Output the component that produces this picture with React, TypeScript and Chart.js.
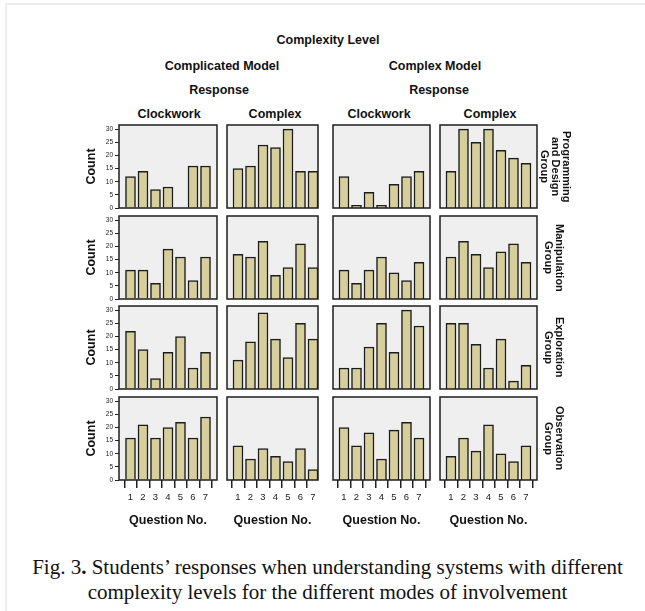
import React, { useEffect, useRef } from 'react';
import { Chart, registerables } from 'chart.js';

Chart.register(...registerables);

// ---------- data ----------
const QUESTIONS = [1, 2, 3, 4, 5, 6, 7];
const Y_TICKS = [0, 5, 10, 15, 20, 25, 30];
const MODELS = ['Complicated Model', 'Complex Model'];
const RESPONSES = ['Clockwork', 'Complex', 'Clockwork', 'Complex'];
const GROUP_LABELS = [
  ['Programming', 'and Design', 'Group'],
  ['Manipulation', 'Group'],
  ['Exploration', 'Group'],
  ['Observation', 'Group'],
];

// Programming and Design Group
const PROG_COMPLICATED_CLOCKWORK = [12, 14, 7, 8, 0, 16, 16];
const PROG_COMPLICATED_COMPLEX = [15, 16, 24, 23, 30, 14, 14];
const PROG_COMPLEX_CLOCKWORK = [12, 1, 6, 1, 9, 12, 14];
const PROG_COMPLEX_COMPLEX = [14, 30, 25, 30, 22, 19, 17];
// Manipulation Group
const MANI_COMPLICATED_CLOCKWORK = [11, 11, 6, 19, 16, 7, 16];
const MANI_COMPLICATED_COMPLEX = [17, 16, 22, 9, 12, 21, 12];
const MANI_COMPLEX_CLOCKWORK = [11, 6, 11, 16, 10, 7, 14];
const MANI_COMPLEX_COMPLEX = [16, 22, 17, 12, 18, 21, 14];
// Exploration Group
const EXPL_COMPLICATED_CLOCKWORK = [22, 15, 4, 14, 20, 8, 14];
const EXPL_COMPLICATED_COMPLEX = [11, 18, 29, 19, 12, 25, 19];
const EXPL_COMPLEX_CLOCKWORK = [8, 8, 16, 25, 14, 30, 24];
const EXPL_COMPLEX_COMPLEX = [25, 25, 17, 8, 19, 3, 9];
// Observation Group
const OBS_COMPLICATED_CLOCKWORK = [16, 21, 16, 20, 22, 16, 24];
const OBS_COMPLICATED_COMPLEX = [13, 8, 12, 9, 7, 12, 4];
const OBS_COMPLEX_CLOCKWORK = [20, 13, 18, 8, 19, 22, 16];
const OBS_COMPLEX_COMPLEX = [9, 16, 11, 21, 10, 7, 13];

const GRID = [
  [PROG_COMPLICATED_CLOCKWORK, PROG_COMPLICATED_COMPLEX, PROG_COMPLEX_CLOCKWORK, PROG_COMPLEX_COMPLEX],
  [MANI_COMPLICATED_CLOCKWORK, MANI_COMPLICATED_COMPLEX, MANI_COMPLEX_CLOCKWORK, MANI_COMPLEX_COMPLEX],
  [EXPL_COMPLICATED_CLOCKWORK, EXPL_COMPLICATED_COMPLEX, EXPL_COMPLEX_CLOCKWORK, EXPL_COMPLEX_COMPLEX],
  [OBS_COMPLICATED_CLOCKWORK, OBS_COMPLICATED_COMPLEX, OBS_COMPLEX_CLOCKWORK, OBS_COMPLEX_COMPLEX],
];

// ---------- layout ----------
const FONT = '"Liberation Sans", Arial, Helvetica, sans-serif';
const COL_LEFT = [119, 227, 333, 440];
const COL_WIDTH = [98, 91, 97, 97];
const COL_XMIN = [0.08, 0.12, 0.12, 0.12];
const COL_XMAX = [7.92, 7.4, 7.88, 7.88];
const ROW_TOP = [125, 216, 306, 397];
const GROUP_LABEL_LEFT = [539, 543, 543, 543];
const PANEL_H = 83;
const PAD = 6;
const Y_AXIS_W = 39;
const X_AXIS_H = 48;
const Y_MAX = 31.6;

const framePlugin = {
  id: 'panelFrame',
  beforeDatasetsDraw(chart: any) {
    const { ctx, chartArea: a } = chart;
    ctx.save();
    ctx.fillStyle = '#efefef';
    ctx.fillRect(a.left, a.top, a.right - a.left, a.bottom - a.top);
    ctx.restore();
  },
  afterDatasetsDraw(chart: any) {
    const { ctx, chartArea: a } = chart;
    ctx.save();
    ctx.strokeStyle = '#1e1e1e';
    ctx.lineWidth = 1.5;
    ctx.strokeRect(a.left, a.top, a.right - a.left, a.bottom - a.top);
    ctx.restore();
  },
};

function Panel({ row, col, values }: { row: number; col: number; values: number[] }) {
  const ref = useRef<HTMLCanvasElement>(null);
  const first = col === 0;
  const last = row === 3;
  const left = first ? COL_LEFT[col] - Y_AXIS_W : COL_LEFT[col] - PAD;
  const top = ROW_TOP[row] - PAD;
  const width = (first ? Y_AXIS_W : PAD) + COL_WIDTH[col] + PAD;
  const height = PAD + PANEL_H + (last ? X_AXIS_H : 0) + PAD;

  useEffect(() => {
    if (!ref.current) return;
    const chart = new Chart(ref.current, {
      type: 'bar',
      data: {
        datasets: [
          {
            data: QUESTIONS.map((q, i) => ({ x: q, y: values[i] })),
            backgroundColor: '#d6cf9c',
            borderColor: '#1c1c1c',
            borderWidth: 1.5,
            barThickness: 10,
          } as any,
        ],
      },
      options: {
        responsive: false,
        animation: false,
        events: [],
        layout: { padding: { left: first ? 0 : PAD, right: PAD, top: PAD, bottom: PAD } },
        plugins: { legend: { display: false }, tooltip: { enabled: false } },
        scales: {
          x: {
            type: 'linear',
            min: COL_XMIN[col],
            max: COL_XMAX[col],
            display: last,
            offset: false,
            afterBuildTicks: (s: any) => {
              s.ticks = QUESTIONS.map((v) => ({ value: v }));
            },
            afterFit: (s: any) => {
              s.height = last ? X_AXIS_H : 0;
            },
            grid: { drawOnChartArea: false, drawTicks: true, tickLength: 8, color: '#222', lineWidth: 1.5 },
            border: { display: false },
            ticks: {
              font: { family: FONT, size: 9.5 },
              color: '#222',
              padding: 4,
              maxRotation: 0,
              autoSkip: false,
              callback: (v: any) => String(v),
            },
            title: {
              display: true,
              text: 'Question No.',
              font: { family: FONT, size: 12.5, weight: 'bold' },
              color: '#111',
              padding: { top: 0, bottom: 0 },
            },
          },
          y: {
            type: 'linear',
            min: 0,
            max: Y_MAX,
            display: first,
            afterBuildTicks: (s: any) => {
              s.ticks = Y_TICKS.map((v) => ({ value: v }));
            },
            afterFit: (s: any) => {
              s.width = first ? Y_AXIS_W : 0;
            },
            grid: { drawOnChartArea: false, drawTicks: true, tickLength: 4, color: '#222', lineWidth: 1 },
            border: { display: false },
            ticks: { font: { family: FONT, size: 6.5 }, color: '#222', padding: 2 },
            title: {
              display: true,
              text: 'Count',
              font: { family: FONT, size: 12.5, weight: 'bold' },
              color: '#111',
              padding: { top: 4, bottom: 0 },
            },
          },
        },
      } as any,
      plugins: [framePlugin],
    });
    return () => chart.destroy();
  }, []);

  return (
    <canvas
      ref={ref}
      width={width}
      height={height}
      style={{ position: 'absolute', left, top, width, height }}
    />
  );
}

function Label({ x, y, text, size = 12.5 }: { x: number; y: number; text: string; size?: number }) {
  return (
    <div
      style={{
        position: 'absolute',
        left: x,
        top: y,
        transform: 'translate(-50%, -50%)',
        whiteSpace: 'nowrap',
        fontFamily: FONT,
        fontWeight: 'bold',
        fontSize: size,
        color: '#111',
        lineHeight: 1,
      }}
    >
      {text}
    </div>
  );
}

const COL_HEADER_X = [169, 275, 379, 490];

export default function App() {
  return (
    <div
      style={{
        position: 'absolute',
        left: 0,
        top: 0,
        width: 645,
        height: 611,
        background: '#fff',
        overflow: 'hidden',
      }}
    >
      <div
        style={{
          position: 'absolute',
          left: 5,
          top: 3,
          width: 650,
          height: 620,
          borderTop: '2px solid #ececec',
          borderLeft: '2px solid #ececec',
        }}
      />
      <Label x={328} y={40} text="Complexity Level" />
      <Label x={222} y={65.5} text={MODELS[0]} />
      <Label x={435} y={65.5} text={MODELS[1]} />
      <Label x={219} y={90} text="Response" />
      <Label x={439} y={90} text="Response" />
      {RESPONSES.map((r, i) => (
        <Label key={'r' + i} x={COL_HEADER_X[i]} y={114} text={r} />
      ))}
      {GRID.map((rowData, r) =>
        rowData.map((vals, c) => <Panel key={r + '-' + c} row={r} col={c} values={vals} />)
      )}
      {GROUP_LABELS.map((lines, r) => (
        <div
          key={'g' + r}
          style={{
            position: 'absolute',
            left: GROUP_LABEL_LEFT[r],
            top: ROW_TOP[r],
            height: PANEL_H,
            width: lines.length * 11,
            writingMode: 'vertical-rl',
            textAlign: 'center',
            fontFamily: FONT,
            fontWeight: 'bold',
            fontSize: 11,
            lineHeight: '11px',
            color: '#111',
            whiteSpace: 'nowrap',
          }}
        >
          {lines.map((l, i) => (
            <div key={i}>{l}</div>
          ))}
        </div>
      ))}
      <div
        style={{
          position: 'absolute',
          left: 5,
          top: 555,
          width: 645,
          textAlign: 'center',
          fontFamily: '"Liberation Serif", "Times New Roman", serif',
          fontSize: 21,
          lineHeight: '24.5px',
          color: '#111',
        }}
      >
        Fig. 3<b>.</b> Students’ responses when understanding systems with different
        <br />
        complexity levels for the different modes of involvement
      </div>
    </div>
  );
}
